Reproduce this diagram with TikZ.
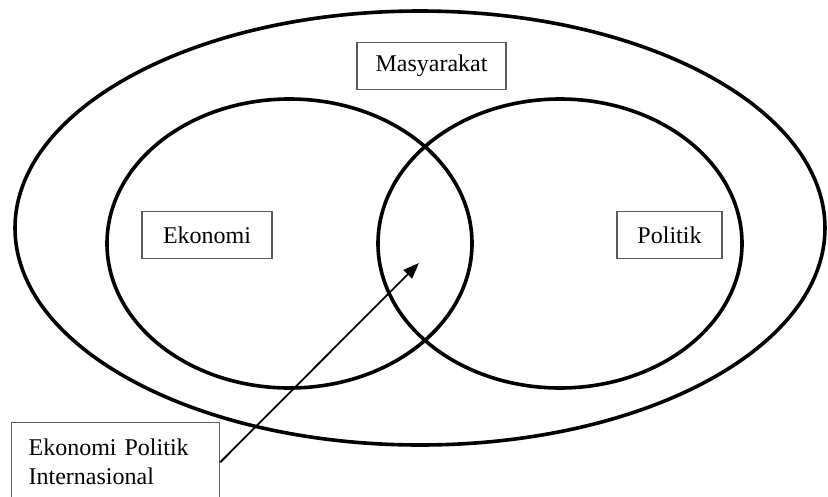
\documentclass[tikz,border=0pt]{standalone}
\usepackage{fontspec}
\setmainfont{Liberation Serif}
\usetikzlibrary{arrows.meta}
\definecolor{boxgray}{HTML}{5A5A5A}
\begin{document}
\begin{tikzpicture}[x=1pt,y=-1pt,
  ring/.style={draw=black,line width=3.6pt},
  lbl/.style={draw=boxgray,line width=1.3pt,font=\fontsize{24}{29}\selectfont,inner sep=0pt,minimum height=47pt},
  ptr/.style={line width=1.8pt,-{Triangle[length=16pt,width=12pt]}}]
\useasboundingbox (0,0) rectangle (828,496);
\clip (0,0) rectangle (828,496);
% rings
\draw[ring] (420,228) ellipse [x radius=405, y radius=217];
\draw[ring] (289.5,243.5) ellipse [x radius=182.5, y radius=144.5];
\draw[ring] (560,243.5) ellipse [x radius=182, y radius=144.5];
% labels
\node[lbl, minimum width=149pt] (mas) at (431.5,66) {Masyarakat};
\node[lbl, minimum width=130pt] (eko) at (207,235) {Ekonomi};
\node[lbl, minimum width=105pt] (pol) at (669.5,235) {Politik};
\node[lbl, anchor=north west, minimum height=0pt, text width=174pt, align=left,
      inner xsep=17pt, inner ysep=16.6pt] (epi) at (11,422) {Ekonomi Politik\\Internasional};
% pointer
\coordinate (tip) at (419,263);
\draw[ptr] (epi.east) -- (tip);
\end{tikzpicture}
\end{document}
